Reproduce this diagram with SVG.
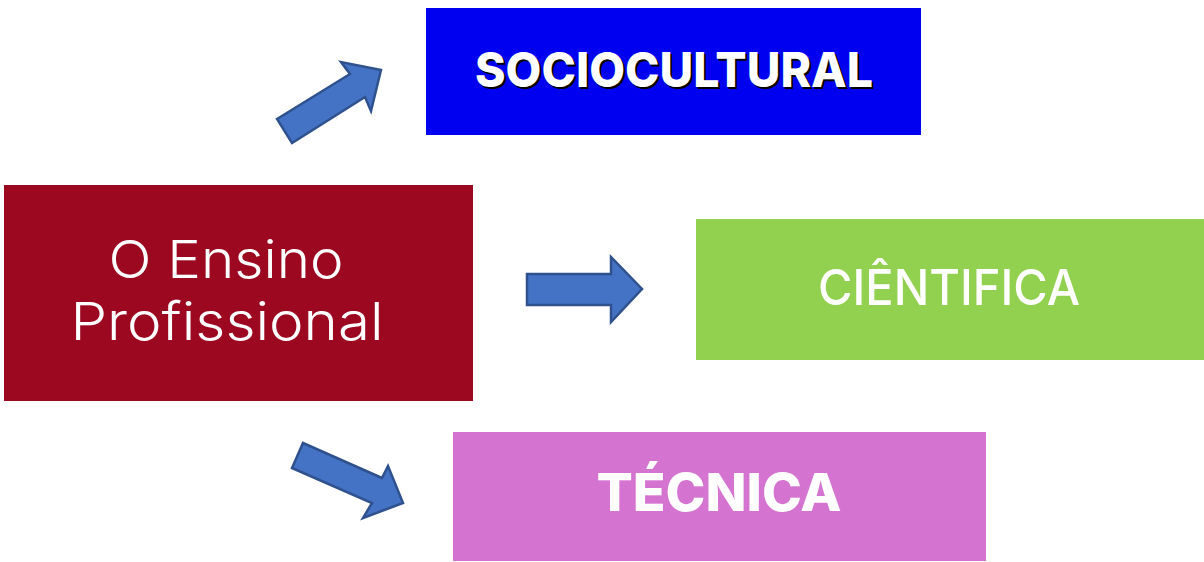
<svg xmlns="http://www.w3.org/2000/svg" width="1204" height="562" viewBox="0 0 1204 562">
<style>
.arrow{fill:#4472C4;stroke:#2F528F;stroke-width:2.5;stroke-linejoin:miter}
.t{font-family:Inter,"Open Sans","Liberation Sans",sans-serif;fill:#fff;text-anchor:middle}
.b{font-weight:800}
</style>
<rect width="1204" height="562" fill="#fff"/>
<g id="connectors">
<polygon class="arrow" points="277,119 350,74 341,62 381,70 371,111 365,97 292,143"/>
<polygon class="arrow" points="527,274 611,274 611,257 642,289 611,322 611,305 527,305"/>
<polygon class="arrow" points="303,443 382,478 388,466 403,503 363,518 372,503 292,468"/>
</g>
<g id="sociocultural">
<rect x="426" y="8" width="495" height="127" fill="#0000F0"/>
<text class="t b" x="676" y="89" font-size="48" style="fill:#000" textLength="398" lengthAdjust="spacingAndGlyphs">SOCIOCULTURAL</text>
<text class="t b" x="674" y="87" font-size="48" textLength="398" lengthAdjust="spacingAndGlyphs">SOCIOCULTURAL</text>
</g>
<g id="ensino">
<rect x="4" y="185" width="469" height="216" fill="#9B0820"/>
<text class="t" x="226" y="278" font-size="52" font-weight="350" textLength="235" lengthAdjust="spacingAndGlyphs">O Ensino</text>
<text class="t" x="227" y="340" font-size="52" font-weight="350" textLength="313" lengthAdjust="spacingAndGlyphs">Profissional</text>
</g>
<g id="cientifica">
<rect x="696" y="219" width="508" height="141" fill="#92D050"/>
<text class="t" x="949" y="305" font-size="50" font-weight="500" textLength="262" lengthAdjust="spacingAndGlyphs">CIÊNTIFICA</text>
</g>
<g id="tecnica">
<rect x="453" y="432" width="533" height="129" fill="#D474D0"/>
<text class="t b" x="719" y="511" font-size="52" textLength="245" lengthAdjust="spacingAndGlyphs">TÉCNICA</text>
</g>
</svg>
